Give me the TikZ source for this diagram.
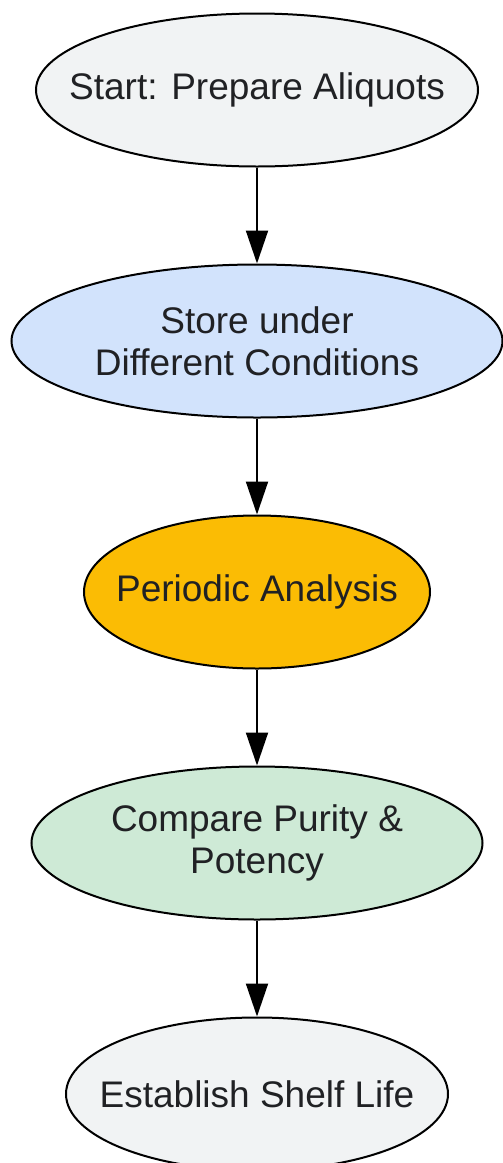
\documentclass[tikz,border=0pt]{standalone}
\usepackage{fontspec}
\setmainfont{Liberation Sans}
\usetikzlibrary{positioning,shapes.geometric,arrows.meta}
\definecolor{greyfill}{HTML}{F1F3F4}
\definecolor{bluefill}{HTML}{D2E3FC}
\definecolor{yellowfill}{HTML}{FBBC04}
\definecolor{greenfill}{HTML}{CEEAD6}
\definecolor{textgrey}{HTML}{202124}
\tikzset{
    stage/.style={ellipse, draw=black, line width=2pt, inner sep=0pt,
        minimum height=153pt},
    stagetext/.style={text=textgrey, align=center,
        font=\fontsize{37}{42}\selectfont},
    flow/.style={-{Triangle[length=33pt,width=22pt]}, line width=2pt}
}
\begin{document}
\begin{tikzpicture}[x=1pt,y=1pt,node distance=96pt]
    \useasboundingbox (0,0) rectangle (503,-1163);
    % steps
    \node[stage, fill=greyfill, minimum width=442pt,
        label={[stagetext]center:Start: Prepare Aliquots}] (prep) at (257,-90) {};
    \node[stage, fill=bluefill, minimum width=491pt, below=of prep,
        label={[stagetext]center:Store under\\Different Conditions}] (store) {};
    \node[stage, fill=yellowfill, minimum width=346pt, below=of store,
        label={[stagetext]center:Periodic Analysis}] (analysis) {};
    \node[stage, fill=greenfill, minimum width=451pt, below=of analysis,
        label={[stagetext]center:Compare Purity \&\\Potency}] (compare) {};
    \node[stage, fill=greyfill, minimum width=382pt, below=of compare,
        label={[stagetext]center:Establish Shelf Life}] (shelf) {};
    % arrows
    \draw[flow] (prep) -- (store);
    \draw[flow] (store) -- (analysis);
    \draw[flow] (analysis) -- (compare);
    \draw[flow] (compare) -- (shelf);
\end{tikzpicture}
\end{document}
